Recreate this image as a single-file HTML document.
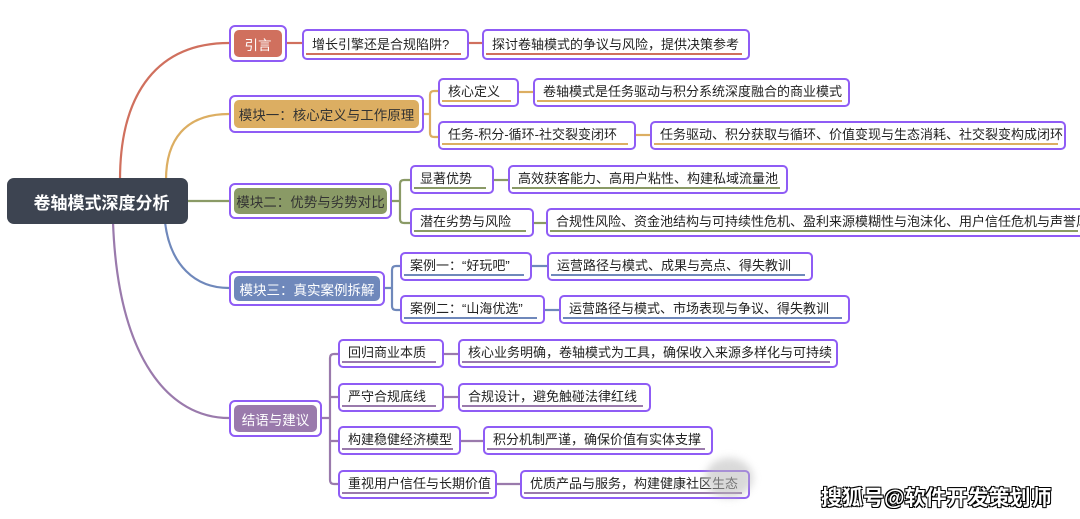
<!DOCTYPE html>
<html><head><meta charset="utf-8"><style>
body{margin:0;width:1080px;height:519px;background:#fff;position:relative;overflow:hidden;font-family:"Liberation Sans","Noto Sans CJK SC",sans-serif}
.l{position:absolute;box-sizing:border-box;border:2px solid #8f5cf5;border-radius:5px;background:#fff;font-size:13px;color:#222;padding-left:8px;white-space:nowrap;overflow:hidden}
.l span{position:absolute;left:8px;bottom:6px;line-height:14px}
.l i{position:absolute;left:2px;right:6px;bottom:3px;height:2px}
.m{position:absolute;box-sizing:border-box;border:2px solid #8f5cf5;border-radius:6px;background:#fff;padding:3px}
.m div{width:100%;height:100%;border-radius:5px;color:#fff;font-size:13.5px;display:flex;align-items:center;justify-content:center;white-space:nowrap}
</style></head><body>
<svg width="1080" height="519" style="position:absolute;left:0;top:0" fill="none" stroke-width="2.2">
<path d="M120 180 C120 90 160 43 229 43" stroke="#d0705e"/>
<path d="M166 180 C166 140 185 114 229 114" stroke="#dcae62"/>
<path d="M188 201 L229 201" stroke="#8a9a66"/>
<path d="M165 222 C170 265 195 288 229 288" stroke="#6f88bb"/>
<path d="M113 222 C118 360 170 418 229 418" stroke="#9a7aac"/>
<g stroke="#d0705e"><path d="M287 43 H302"/><path d="M469 43 H482"/></g>
<g stroke="#dcae62"><path d="M424 114 H430 M438 91 H434 Q430 91 430 95 V133 Q430 137 434 137 H438"/><path d="M519 92 H533"/><path d="M636 135 H650"/></g>
<g stroke="#8a9a66"><path d="M392 201 H400 M410 180 H404 Q400 180 400 184 V219 Q400 223 404 223 H410"/><path d="M494 180 H508"/><path d="M534 223 H546"/></g>
<g stroke="#6f88bb"><path d="M385 288 H392 M400 266 H396 Q392 266 392 270 V306 Q392 310 396 310 H400"/><path d="M532 266 H547"/><path d="M545 310 H559"/></g>
<g stroke="#9a7aac"><path d="M322 418 H330 M338 354 H334 Q330 354 330 358 V480 Q330 484 334 484 H338 M330 397 H338 M330 441 H338"/><path d="M444 354 H458"/><path d="M444 397 H458"/><path d="M461 441 H483"/><path d="M497 484 H520"/></g>
</svg>
<div style="position:absolute;left:7px;top:178px;width:181px;height:46px;background:#3d4451;border-radius:7px;color:#fff;font-weight:bold;font-size:17px;display:flex;align-items:center;justify-content:center;padding-left:8px;box-sizing:border-box">卷轴模式深度分析</div>
<div class="m" style="left:229px;top:25px;width:58px;height:37px"><div style="background:#d0705e">引言</div></div>
<div class="m" style="left:229px;top:95px;width:195px;height:38px"><div style="background:#dcae62;color:#333">模块一：核心定义与工作原理</div></div>
<div class="m" style="left:229px;top:183px;width:163px;height:36px"><div style="background:#8a9a66;color:#333">模块二：优势与劣势对比</div></div>
<div class="m" style="left:229px;top:271px;width:156px;height:35px"><div style="background:#6f88bb">模块三：真实案例拆解</div></div>
<div class="m" style="left:229px;top:400px;width:93px;height:37px"><div style="background:#9a7aac">结语与建议</div></div>

<div class="l" style="left:302px;top:29px;width:167px;height:31px"><span>增长引擎还是合规陷阱?</span><i style="background:#d0705e"></i></div>
<div class="l" style="left:482px;top:29px;width:268px;height:31px"><span>探讨卷轴模式的争议与风险，提供决策参考</span><i style="background:#d0705e"></i></div>
<div class="l" style="left:438px;top:78px;width:81px;height:29px"><span>核心定义</span><i style="background:#dcae62"></i></div>
<div class="l" style="left:533px;top:78px;width:317px;height:29px"><span>卷轴模式是任务驱动与积分系统深度融合的商业模式</span><i style="background:#dcae62"></i></div>
<div class="l" style="left:438px;top:121px;width:198px;height:29px"><span>任务-积分-循环-社交裂变闭环</span><i style="background:#dcae62"></i></div>
<div class="l" style="left:650px;top:121px;width:416px;height:29px"><span>任务驱动、积分获取与循环、价值变现与生态消耗、社交裂变构成闭环</span><i style="background:#dcae62"></i></div>
<div class="l" style="left:410px;top:165px;width:84px;height:29px"><span>显著优势</span><i style="background:#8a9a66"></i></div>
<div class="l" style="left:508px;top:165px;width:280px;height:29px"><span>高效获客能力、高用户粘性、构建私域流量池</span><i style="background:#8a9a66"></i></div>
<div class="l" style="left:410px;top:208px;width:124px;height:29px"><span>潜在劣势与风险</span><i style="background:#8a9a66"></i></div>
<div class="l" style="left:546px;top:208px;width:540px;height:29px"><span>合规性风险、资金池结构与可持续性危机、盈利来源模糊性与泡沫化、用户信任危机与声誉风险</span><i style="background:#8a9a66"></i></div>
<div class="l" style="left:400px;top:252px;width:132px;height:29px"><span>案例一：“好玩吧”</span><i style="background:#6f88bb"></i></div>
<div class="l" style="left:547px;top:252px;width:266px;height:29px"><span>运营路径与模式、成果与亮点、得失教训</span><i style="background:#6f88bb"></i></div>
<div class="l" style="left:400px;top:295px;width:145px;height:29px"><span>案例二：“山海优选”</span><i style="background:#6f88bb"></i></div>
<div class="l" style="left:559px;top:295px;width:291px;height:29px"><span>运营路径与模式、市场表现与争议、得失教训</span><i style="background:#6f88bb"></i></div>
<div class="l" style="left:338px;top:339px;width:106px;height:29px"><span>回归商业本质</span><i style="background:#9a7aac"></i></div>
<div class="l" style="left:458px;top:339px;width:380px;height:29px"><span>核心业务明确，卷轴模式为工具，确保收入来源多样化与可持续</span><i style="background:#9a7aac"></i></div>
<div class="l" style="left:338px;top:383px;width:106px;height:29px"><span>严守合规底线</span><i style="background:#9a7aac"></i></div>
<div class="l" style="left:458px;top:383px;width:193px;height:29px"><span>合规设计，避免触碰法律红线</span><i style="background:#9a7aac"></i></div>
<div class="l" style="left:338px;top:426px;width:123px;height:29px"><span>构建稳健经济模型</span><i style="background:#9a7aac"></i></div>
<div class="l" style="left:483px;top:426px;width:230px;height:29px"><span>积分机制严谨，确保价值有实体支撑</span><i style="background:#9a7aac"></i></div>
<div class="l" style="left:338px;top:470px;width:159px;height:29px"><span>重视用户信任与长期价值</span><i style="background:#9a7aac"></i></div>
<div class="l" style="left:520px;top:470px;width:230px;height:29px"><span>优质产品与服务，构建健康社区生态</span><i style="background:#9a7aac"></i></div>
<div style="position:absolute;left:705px;top:458px;width:48px;height:40px;border-radius:50%;background:#bbb;opacity:.55;filter:blur(4px)"></div>
<div style="position:absolute;left:821px;top:482px;font-size:21px;font-weight:bold;color:#fff;white-space:nowrap;text-shadow:-1px -1px 0 #000,1px -1px 0 #000,-1px 1px 0 #000,1px 1px 0 #000">搜狐号@软件开发策划师</div>
</body></html>
